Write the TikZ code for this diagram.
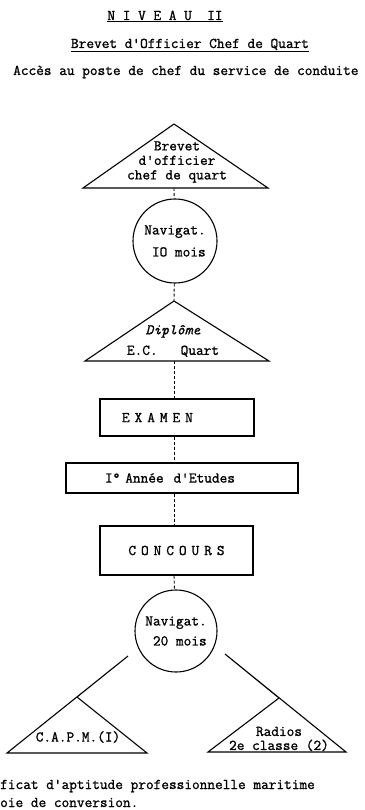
\documentclass[tikz,border=0pt]{standalone}
\usepackage{fontspec}
\newfontfamily\typew[FakeBold=1.2]{Latin Modern Mono}
\usetikzlibrary{positioning}

\begin{document}
\begin{tikzpicture}[
  x=1pt, y=-1pt,
  txt/.style={font=\typew\fontsize{14.9}{14.5}\selectfont, inner sep=0pt, align=center},
  boxnode/.style={rectangle, draw, line width=1.1pt, font=\typew\fontsize{14.9}{15}\selectfont, align=left, inner ysep=0pt},
  navcircle/.style={circle, draw, line width=1.1pt, inner sep=0pt, align=center, font=\typew\fontsize{14.9}{15}\selectfont},
  edge/.style={line width=1.1pt, line join=miter},
  link/.style={line width=0.9pt, dash pattern=on 3pt off 2pt}
]
  \useasboundingbox (0,0) rectangle (364,810);

  % headings
  \node[txt, anchor=base] (niveau) at (165,20) {\underline{N I V E A U\ \ II}};
  \node[txt, anchor=base] (brevetchef) at (190,48) {\underline{Brevet d'Officier Chef de Quart}};
  \node[txt, anchor=base west] (acces) at (13,75) {Accès au poste de chef du service de conduite};

  % top triangle
  \coordinate (brevetTop) at (174,124);
  \coordinate (brevetL) at (83,188);
  \coordinate (brevetR) at (268,188);
  \coordinate (brevetB) at (174,188);
  \draw[edge] (brevetL) -- (brevetTop) -- (brevetR) -- cycle;
  \node[txt] (brevet) at (177,162) {Brevet\\d'officier\\chef de quart};

  \node[navcircle, minimum size=84pt] (nav1) at (175,241) {Navigat.\\[7pt]\ IO mois};

  % diplome triangle
  \coordinate (diplTop) at (174,301);
  \coordinate (diplL) at (85,361);
  \coordinate (diplR) at (269,361);
  \coordinate (diplB) at (174,361);
  \draw[edge] (diplL) -- (diplTop) -- (diplR) -- cycle;
  \node[txt] (diplome) at (173,341) {\textit{Diplôme}\\[6pt]E.C.\ \ \ Quart};

  % boxes
  \node[boxnode, minimum width=154pt, minimum height=37pt, text width=110pt, inner xsep=22pt] (examen) at (177,417.5) {E X A M E N};
  \node[boxnode, minimum width=232pt, minimum height=30pt, text width=154pt, inner xsep=39pt] (annee) at (182,478) {I° Année\ \ d'Etudes};
  \node[boxnode, minimum width=153pt, minimum height=49pt, text width=131pt, inner xsep=11pt, align=center] (concours) at (176.5,550.5) {C O N C O U R S};

  \node[navcircle, minimum size=82pt] (nav2) at (176,631) {Navigat.\\[5pt]\ 20 mois};

  % bottom triangles
  \coordinate (capmTop) at (77,697);
  \coordinate (capmL) at (7,753);
  \coordinate (capmR) at (147,753);
  \coordinate (capmEnd) at (128,656);
  \draw[edge] (capmEnd) -- (capmTop) -- (capmR) -- (capmL) -- cycle;
  \node[txt] (capm) at (78,737) {C.A.P.M.(I)};

  \coordinate (radioTop) at (279,698);
  \coordinate (radioL) at (208,752);
  \coordinate (radioR) at (346,752);
  \coordinate (radioEnd) at (225,654);
  \draw[edge] (radioEnd) -- (radioTop) -- (radioL) -- (radioR) -- cycle;
  \node[txt, font=\typew\fontsize{14.9}{14}\selectfont] (radios) at (279,739) {Radios\\2e classe (2)};

  % dashed links
  \draw[link] (brevetB) -- (nav1);
  \draw[link] (nav1) -- (diplTop);
  \draw[link] (diplB) -- (diplB |- examen.north);
  \draw[link] (diplB |- examen.south) -- (diplB |- annee.north);
  \draw[link] (diplB |- annee.south) -- (diplB |- concours.north);
  \draw[link] (diplB |- concours.south) -- (nav2);

  % footnotes
  \node[txt, anchor=base west] (note1) at (0,789) {ficat d'aptitude professionnelle maritime};
  \node[txt, anchor=base west] (note2) at (0,807) {oie de conversion.};
\end{tikzpicture}
\end{document}
